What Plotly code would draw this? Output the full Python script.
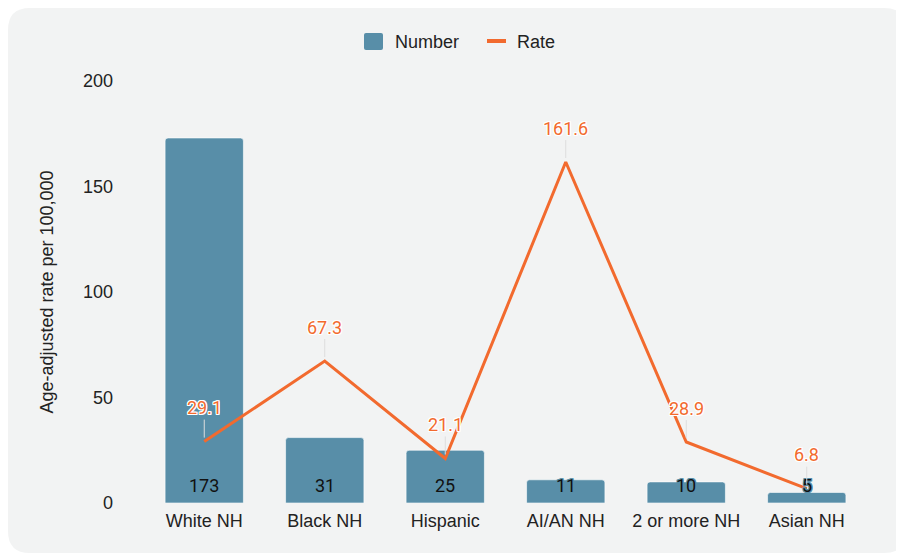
import plotly.graph_objects as go

categories = ["White NH", "Black NH", "Hispanic", "AI/AN NH", "2 or more NH", "Asian NH"]
numbers = [173, 31, 25, 11, 10, 5]
rates = [29.1, 67.3, 21.1, 161.6, 28.9, 6.8]
y_ticks = [0, 50, 100, 150, 200]
series_names = ["Number", "Rate"]

BAR = "#588ea8"
LINE = "#f26a2e"
TXT = "#222222"
CARD = "#f2f3f3"
W, H = 904, 560
L, R, T, B = 136, 45, 73, 65

fig = go.Figure()
fig.add_trace(go.Bar(
    x=categories, y=numbers, name=series_names[0],
    marker=dict(color=BAR, line=dict(color="rgba(255,255,255,0.6)", width=1), cornerradius=3),
    width=0.65, hoverinfo="skip", showlegend=False,
))
fig.add_trace(go.Scatter(
    x=categories, y=rates, name=series_names[1], mode="lines",
    line=dict(color=LINE, width=3), hoverinfo="skip", showlegend=False,
))

def halo(c):
    return ", ".join(f"{dx}px {dy}px 0 {c}" for dx in (-1, 0, 1) for dy in (-1, 0, 1) if dx or dy)

annotations = []
for c, n in zip(categories, numbers):
    annotations.append(dict(
        x=c, y=0, xref="x", yref="y", text=str(n), showarrow=False,
        yanchor="bottom", yshift=5,
        font=dict(family="Roboto", size=18, color="#111", shadow=halo(BAR)),
    ))
for c, r in zip(categories, rates):
    annotations.append(dict(
        x=c, y=r, xref="x", yref="y", text=f"{r:.1f}", showarrow=True,
        arrowhead=0, arrowwidth=1, arrowcolor="#dddddd", ax=0, ay=-34, standoff=4,
        font=dict(family="Roboto", size=18, color=LINE, shadow=halo("#ffffff")),
    ))

# pixel -> paper coords helpers (layout only)
def px(x):
    return (x - L) / (W - L - R)
def py(y):
    return (H - B - y) / (H - T - B)

def rounded(x0, y0, x1, y1, rad):
    return (f"M {px(x0+rad)},{py(y0)} L {px(x1-rad)},{py(y0)} Q {px(x1)},{py(y0)} {px(x1)},{py(y0+rad)} "
            f"L {px(x1)},{py(y1-rad)} Q {px(x1)},{py(y1)} {px(x1-rad)},{py(y1)} "
            f"L {px(x0+rad)},{py(y1)} Q {px(x0)},{py(y1)} {px(x0)},{py(y1-rad)} "
            f"L {px(x0)},{py(y0+rad)} Q {px(x0)},{py(y0)} {px(x0+rad)},{py(y0)} Z")

shapes = [
    dict(type="path", xref="paper", yref="paper", path=rounded(0, 0, 898, 545, 22),
         fillcolor=CARD, line=dict(width=0), layer="below"),
    # legend swatches
    dict(type="path", xref="paper", yref="paper", path=rounded(356, 25, 375, 42, 2),
         fillcolor=BAR, line=dict(width=0)),
    dict(type="line", xref="paper", yref="paper", x0=px(479), x1=px(498), y0=py(33), y1=py(33),
         line=dict(color=LINE, width=4)),
]
annotations += [
    dict(xref="paper", yref="paper", x=px(385), y=py(34), text=series_names[0], showarrow=False,
         xanchor="left", yanchor="middle", font=dict(size=18, color=TXT)),
    dict(xref="paper", yref="paper", x=px(507), y=py(34), text=series_names[1], showarrow=False,
         xanchor="left", yanchor="middle", font=dict(size=18, color=TXT)),
]

fig.update_layout(
    width=W, height=H,
    margin=dict(l=L, r=R, t=T, b=B, autoexpand=False),
    paper_bgcolor="white", plot_bgcolor="rgba(0,0,0,0)",
    font=dict(family="Liberation Sans, Arial", size=18, color=TXT),
    showlegend=False,
    shapes=shapes,
    annotations=annotations,
)
fig.update_xaxes(showgrid=False, showline=False, zeroline=False, ticks="",
                 tickfont=dict(size=18, color=TXT), ticklabelstandoff=5)
fig.update_yaxes(range=[0, 200], tickvals=y_ticks, showgrid=False, zeroline=False,
                 showline=False, ticks="", ticklabelstandoff=30,
                 tickfont=dict(size=18, color=TXT),
                 title=dict(text="Age-adjusted rate per 100,000", standoff=24,
                            font=dict(size=18, color=TXT)))
fig.write_html("out.html")
